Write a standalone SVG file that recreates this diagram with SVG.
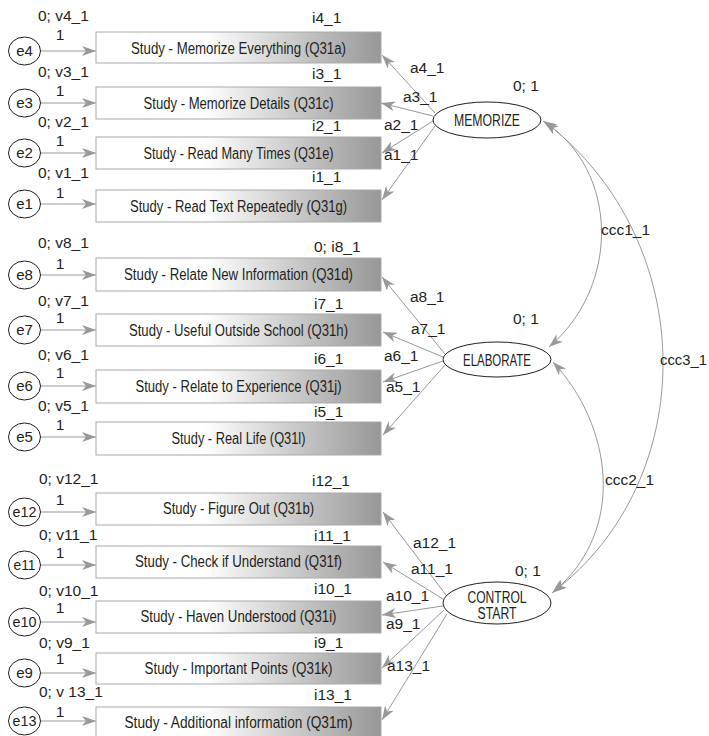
<svg xmlns="http://www.w3.org/2000/svg" width="709" height="736" viewBox="0 0 709 736">
<defs>
<linearGradient id="g" x1="0" y1="0" x2="1" y2="0">
<stop offset="0" stop-color="#ffffff"/>
<stop offset="0.38" stop-color="#ffffff"/>
<stop offset="1" stop-color="#979797"/>
</linearGradient>
<marker id="ah" viewBox="0 0 14 10" refX="14" refY="5" markerWidth="14" markerHeight="10" orient="auto-start-reverse" markerUnits="userSpaceOnUse">
<path d="M0,0 L14,5 L0,10 L4,5 z" fill="#999"/>
</marker>
<style>
text{font-family:"Liberation Sans",Arial,sans-serif;fill:#231f20}
.lb{font-size:15.5px}
.bx{font-size:16px;text-anchor:middle}
.lv{font-size:16px;text-anchor:middle}
.er{font-size:15px;text-anchor:middle}
.one{font-size:15.5px;text-anchor:middle}
rect.box{fill:url(#g);stroke:#aaa;stroke-width:1}
ellipse.c{fill:#fff;stroke:#231f20;stroke-width:1}
.cn path{fill:none;stroke:#999;stroke-width:1;marker-end:url(#ah)}
.cn path.cv{marker-start:url(#ah)}
</style>
</defs>
<rect width="709" height="736" fill="#fff"/>

<g class="cn" id="connectors">
<path d="M41,51 L96,51"/>
<path d="M41,103 L96,103"/>
<path d="M41,153 L96,153"/>
<path d="M41,204 L96,204"/>
<path d="M41,275 L96,275"/>
<path d="M41,330 L96,330"/>
<path d="M41,386 L96,386"/>
<path d="M41,437 L96,437"/>
<path d="M41,512 L96,512"/>
<path d="M41,565 L96,565"/>
<path d="M41,622 L96,622"/>
<path d="M41,673 L96,673"/>
<path d="M41,721 L96,721"/>
<path d="M435,113 L382,55"/>
<path d="M433,116 L381,103"/>
<path d="M433,121 L382,153"/>
<path d="M435,126 L382,200"/>
<path d="M445,354 L382,277"/>
<path d="M443,357 L383,332"/>
<path d="M443,361 L383,382"/>
<path d="M445,365 L383,435"/>
<path d="M446,595 L383,512"/>
<path d="M443,599 L383,562"/>
<path d="M443,606 L382,615"/>
<path d="M444,610 L382,668"/>
<path d="M447,614 L382,720"/>
<path class="cv" d="M543,121 C620,170 620,287 549,347"/>
<path class="cv" d="M545,122 C701,242 701,480 553,592"/>
<path class="cv" d="M553,362 C612,425 628,531 552,593"/>
</g>

<g id="labels">
<text class="lb" x="38" y="21">0; v4_1</text><text class="lb" x="312" y="23">i4_1</text><text class="one" x="60" y="40">1</text>
<text class="lb" x="38" y="77">0; v3_1</text><text class="lb" x="312" y="79">i3_1</text><text class="one" x="60" y="96">1</text>
<text class="lb" x="38" y="127">0; v2_1</text><text class="lb" x="312" y="131">i2_1</text><text class="one" x="60" y="146">1</text>
<text class="lb" x="38" y="178">0; v1_1</text><text class="lb" x="312" y="182">i1_1</text><text class="one" x="60" y="198">1</text>
<text class="lb" x="38" y="248">0; v8_1</text><text class="lb" x="314" y="252">0; i8_1</text><text class="one" x="60" y="269">1</text>
<text class="lb" x="38" y="306">0; v7_1</text><text class="lb" x="314" y="309">i7_1</text><text class="one" x="60" y="323">1</text>
<text class="lb" x="38" y="360">0; v6_1</text><text class="lb" x="314" y="364">i6_1</text><text class="one" x="60" y="378">1</text>
<text class="lb" x="38" y="411">0; v5_1</text><text class="lb" x="314" y="417">i5_1</text><text class="one" x="60" y="430">1</text>
<text class="lb" x="39" y="484">0; v12_1</text><text class="lb" x="312" y="486">i12_1</text><text class="one" x="60" y="505">1</text>
<text class="lb" x="39" y="540">0; v11_1</text><text class="lb" x="314" y="541">i11_1</text><text class="one" x="60" y="558">1</text>
<text class="lb" x="39" y="596">0; v10_1</text><text class="lb" x="314" y="594">i10_1</text><text class="one" x="60" y="613">1</text>
<text class="lb" x="39" y="648">0; v9_1</text><text class="lb" x="314" y="648">i9_1</text><text class="one" x="60" y="664">1</text>
<text class="lb" x="39" y="697">0; v 13_1</text><text class="lb" x="314" y="700">i13_1</text><text class="one" x="60" y="717">1</text>
<text class="lb" x="410" y="73">a4_1</text>
<text class="lb" x="403" y="102">a3_1</text>
<text class="lb" x="384" y="130">a2_1</text>
<text class="lb" x="384" y="160">a1_1</text>
<text class="lb" x="410" y="302">a8_1</text>
<text class="lb" x="411" y="334">a7_1</text>
<text class="lb" x="384" y="361">a6_1</text>
<text class="lb" x="386" y="392">a5_1</text>
<text class="lb" x="413" y="548">a12_1</text>
<text class="lb" x="411" y="574">a11_1</text>
<text class="lb" x="386" y="601">a10_1</text>
<text class="lb" x="386" y="629">a9_1</text>
<text class="lb" x="387" y="671">a13_1</text>
<text class="lb" x="513" y="91">0; 1</text>
<text class="lb" x="513" y="324">0; 1</text>
<text class="lb" x="515" y="576">0; 1</text>
<text class="lb" x="601" y="235">ccc1_1</text>
<text class="lb" x="660" y="365" textLength="47" lengthAdjust="spacingAndGlyphs">ccc3_1</text>
<text class="lb" x="605" y="485">ccc2_1</text>
</g>

<g id="e4"><ellipse class="c" cx="24.5" cy="51" rx="16" ry="14"/><text class="er" x="24.5" y="56">e4</text></g>
<g id="e3"><ellipse class="c" cx="24.5" cy="103" rx="16" ry="14"/><text class="er" x="24.5" y="108">e3</text></g>
<g id="e2"><ellipse class="c" cx="24.5" cy="153" rx="16" ry="14"/><text class="er" x="24.5" y="158">e2</text></g>
<g id="e1"><ellipse class="c" cx="24.5" cy="204" rx="16" ry="14"/><text class="er" x="24.5" y="209">e1</text></g>
<g id="e8"><ellipse class="c" cx="24.5" cy="275" rx="16" ry="14"/><text class="er" x="24.5" y="280">e8</text></g>
<g id="e7"><ellipse class="c" cx="24.5" cy="330" rx="16" ry="14"/><text class="er" x="24.5" y="335">e7</text></g>
<g id="e6"><ellipse class="c" cx="24.5" cy="386" rx="16" ry="14"/><text class="er" x="24.5" y="391">e6</text></g>
<g id="e5"><ellipse class="c" cx="24.5" cy="437" rx="16" ry="14"/><text class="er" x="24.5" y="442">e5</text></g>
<g id="e12"><ellipse class="c" cx="24.5" cy="512" rx="16" ry="14"/><text class="er" x="24.5" y="517" textLength="24" lengthAdjust="spacingAndGlyphs">e12</text></g>
<g id="e11"><ellipse class="c" cx="24.5" cy="565" rx="16" ry="14"/><text class="er" x="24.5" y="570" textLength="22" lengthAdjust="spacingAndGlyphs">e11</text></g>
<g id="e10"><ellipse class="c" cx="24.5" cy="622" rx="16" ry="14"/><text class="er" x="24.5" y="627" textLength="24" lengthAdjust="spacingAndGlyphs">e10</text></g>
<g id="e9"><ellipse class="c" cx="24.5" cy="673" rx="16" ry="14"/><text class="er" x="24.5" y="678">e9</text></g>
<g id="e13"><ellipse class="c" cx="24.5" cy="721" rx="16" ry="14"/><text class="er" x="24.5" y="726" textLength="24" lengthAdjust="spacingAndGlyphs">e13</text></g>

<g id="Q31a"><rect class="box" x="96" y="32" width="285" height="31"/><text class="bx" x="238.5" y="54" textLength="215" lengthAdjust="spacingAndGlyphs">Study - Memorize Everything (Q31a)</text></g>
<g id="Q31c"><rect class="box" x="96" y="87" width="285" height="32"/><text class="bx" x="238.5" y="109" textLength="190" lengthAdjust="spacingAndGlyphs">Study - Memorize Details (Q31c)</text></g>
<g id="Q31e"><rect class="box" x="96" y="137" width="285" height="32"/><text class="bx" x="238.5" y="159" textLength="190" lengthAdjust="spacingAndGlyphs">Study - Read Many Times (Q31e)</text></g>
<g id="Q31g"><rect class="box" x="96" y="190" width="285" height="32"/><text class="bx" x="238.5" y="212" textLength="217" lengthAdjust="spacingAndGlyphs">Study - Read Text Repeatedly (Q31g)</text></g>
<g id="Q31d"><rect class="box" x="96" y="258" width="285" height="33"/><text class="bx" x="238.5" y="280" textLength="229" lengthAdjust="spacingAndGlyphs">Study - Relate New Information (Q31d)</text></g>
<g id="Q31h"><rect class="box" x="96" y="314" width="285" height="32"/><text class="bx" x="238.5" y="336" textLength="219" lengthAdjust="spacingAndGlyphs">Study - Useful Outside School (Q31h)</text></g>
<g id="Q31j"><rect class="box" x="96" y="370" width="285" height="33"/><text class="bx" x="238.5" y="392" textLength="206" lengthAdjust="spacingAndGlyphs">Study - Relate to Experience (Q31j)</text></g>
<g id="Q31l"><rect class="box" x="96" y="422" width="285" height="33"/><text class="bx" x="238.5" y="444" textLength="134" lengthAdjust="spacingAndGlyphs">Study - Real Life (Q31l)</text></g>
<g id="Q31b"><rect class="box" x="96" y="493" width="285" height="32"/><text class="bx" x="238.5" y="514" textLength="151" lengthAdjust="spacingAndGlyphs">Study - Figure Out (Q31b)</text></g>
<g id="Q31f"><rect class="box" x="96" y="546" width="285" height="32"/><text class="bx" x="238.5" y="567" textLength="207" lengthAdjust="spacingAndGlyphs">Study - Check if Understand (Q31f)</text></g>
<g id="Q31i"><rect class="box" x="96" y="601" width="285" height="32"/><text class="bx" x="238.5" y="622" textLength="196" lengthAdjust="spacingAndGlyphs">Study - Haven Understood (Q31i)</text></g>
<g id="Q31k"><rect class="box" x="96" y="653" width="285" height="31"/><text class="bx" x="238.5" y="674" textLength="188" lengthAdjust="spacingAndGlyphs">Study - Important Points (Q31k)</text></g>
<g id="Q31m"><rect class="box" x="96" y="707" width="285" height="32"/><text class="bx" x="238.5" y="728" textLength="228" lengthAdjust="spacingAndGlyphs">Study - Additional information (Q31m)</text></g>

<g id="MEMORIZE"><ellipse class="c" cx="487" cy="120" rx="54" ry="18"/><text class="lv" x="487" y="126" textLength="66" lengthAdjust="spacingAndGlyphs">MEMORIZE</text></g>
<g id="ELABORATE"><ellipse class="c" cx="497" cy="359.5" rx="54" ry="17.5"/><text class="lv" x="497" y="366" textLength="68" lengthAdjust="spacingAndGlyphs">ELABORATE</text></g>
<g id="CONTROL_START"><ellipse class="c" cx="497" cy="603" rx="54" ry="21"/><text class="lv" x="497" y="602.5" textLength="59" lengthAdjust="spacingAndGlyphs">CONTROL</text><text class="lv" x="497" y="618.5" textLength="39" lengthAdjust="spacingAndGlyphs">START</text></g>
</svg>
